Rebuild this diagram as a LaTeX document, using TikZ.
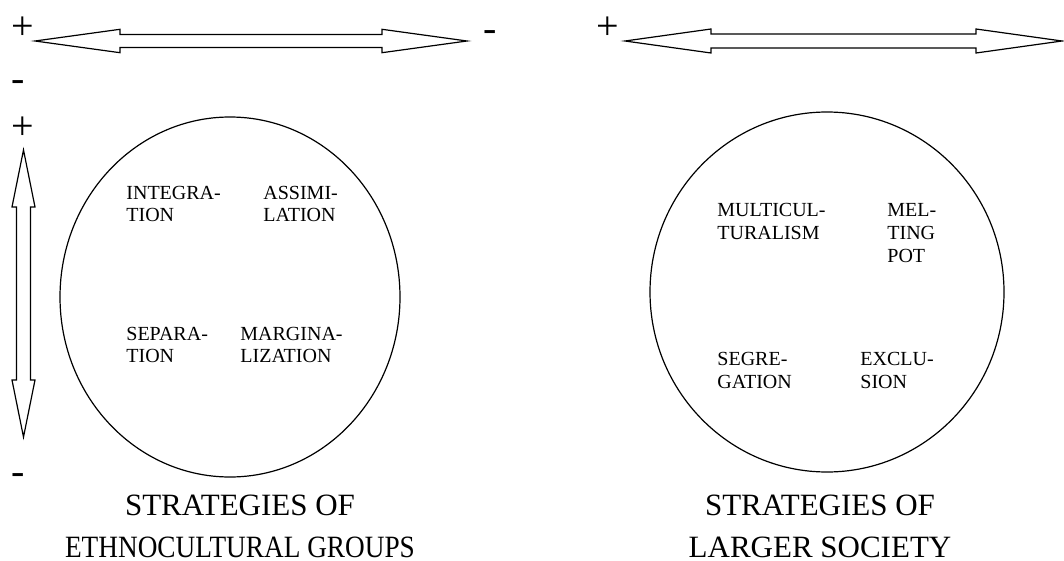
\documentclass[tikz,border=0pt]{standalone}
\usepackage{fontspec}
\setmainfont{Liberation Serif}

\tikzset{
  sign/.style={font=\fontsize{20}{20}\selectfont, inner sep=0pt, anchor=base},
  arrowline/.style={line width=0.6pt, line join=miter},
  strategy/.style={font=\fontsize{10}{11}\selectfont, align=left,
    anchor=west, inner sep=0pt},
  caption/.style={font=\fontsize{15.5}{21}\selectfont, align=center,
    anchor=south, inner sep=0pt}
}

% double headed outline arrow along the x axis, centred at the origin
% #1 length, #2 head length, #3 half width of head, #4 half width of shaft
\newcommand{\axisarrow}[4]{%
  \draw [arrowline] ({-#1/2}, 0) -- ({-#1/2+#2}, {-#3}) -- ({-#1/2+#2}, {-#4})
  -- ({#1/2-#2}, {-#4}) -- ({#1/2-#2}, {-#3}) -- ({#1/2}, 0)
  -- ({#1/2-#2}, {#3}) -- ({#1/2-#2}, {#4}) -- ({-#1/2+#2}, {#4})
  -- ({-#1/2+#2}, {#3}) -- cycle;}

\begin{document}
\begin{tikzpicture}[x=0.5pt, y=-0.5pt]
    \useasboundingbox (0, 0) rectangle (1064, 561);

    % the three double arrows
    \begin{scope}[shift={(251, 41)}]
      \axisarrow{432}{85}{11.7}{6.5}
    \end{scope}

    \begin{scope}[shift={(843.5, 41)}]
      \axisarrow{437}{86}{12}{7}
    \end{scope}

    \begin{scope}[shift={(23.5, 293.5)}, rotate=90]
      \axisarrow{287}{57}{11.5}{7}
    \end{scope}

    \node [sign] (gplus) at (23, 40) {+};
    \node [sign] (gminus) at (490, 42) {-};
    \node [sign] (ominus) at (18, 91.5) {-};
    \node [sign] (oplus) at (23, 140) {+};
    \node [sign] (obottom) at (18, 484.5) {-};
    \node [sign] (splus) at (608, 40) {+};

    % the two circles
    \draw [line width=0.6pt] (230, 297) ellipse (170 and 180);
    \draw [line width=0.6pt] (827, 292) ellipse (177 and 180);

    \node [strategy] (integration) at (126, 204) {INTEGRA-\\TION};
    \node [strategy] (assimilation) at (263, 204) {ASSIMI-\\LATION};
    \node [strategy] (separation) at (126, 345) {SEPARA-\\TION};
    \node [strategy] (marginalization) at (240, 345) {MARGINA-\\LIZATION};

    \node [strategy, font=\fontsize{10}{11.5}\selectfont] (multicult) at (717, 221.5)
    {MULTICUL-\\TURALISM};
    \node [strategy, font=\fontsize{10}{11.5}\selectfont] (meltingpot) at (887, 233)
    {MEL-\\TING\\POT};
    \node [strategy, font=\fontsize{10}{11.5}\selectfont] (segregation) at (717, 370)
    {SEGRE-\\GATION};
    \node [strategy, font=\fontsize{10}{11.5}\selectfont] (exclusion) at (860, 370)
    {EXCLU-\\SION};

    \node [caption] (groups) at (240, 558)
    {STRATEGIES OF\\\scalebox{0.88}[1]{ETHNOCULTURAL GROUPS}};
    \node [caption] (society) at (820, 558) {STRATEGIES OF\\LARGER SOCIETY};

\end{tikzpicture}
\end{document}
